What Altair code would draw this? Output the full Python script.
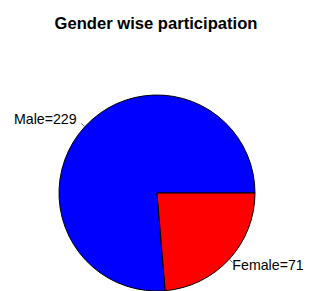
import math
import altair as alt
import pandas as pd

categories = ["Male", "Female"]
counts = [229, 71]
colors = ["#0000FF", "#FF0000"]

df = pd.DataFrame({"gender": categories, "count": counts})
df["label"] = df["gender"] + "=" + df["count"].astype(str)
# R draws counter-clockwise from 3 o'clock; Vega draws clockwise -> reverse order
df["order"] = list(range(len(df)))[::-1]

W, H = 296, 243
R = 98.0
CX, CY = 149, 145

theta_scale = alt.Scale(range=[math.pi / 2, math.pi / 2 + 2 * math.pi])
xs = alt.Scale(domain=[-CX / R, (W - CX) / R], nice=False, zero=False)
ys = alt.Scale(domain=[-(H - CY) / R, CY / R], nice=False, zero=False)

base = (
    alt.Chart(df)
    .transform_joinaggregate(total="sum(count)")
    .transform_window(cum="sum(count)", sort=[alt.SortField("order")], frame=[None, 0])
    .transform_calculate(ang="PI/2 + 2*PI*(datum.cum - datum.count/2)/datum.total")
    .transform_calculate(
        sx="sin(datum.ang)",
        cy="cos(datum.ang)",
    )
    .transform_calculate(
        x1="datum.sx", y1="datum.cy",
        x2="1.05*datum.sx", y2="1.05*datum.cy",
        xt="1.1*datum.sx", yt="1.1*datum.cy",
    )
)

arc = alt.Chart(df).mark_arc(outerRadius=R, stroke="black", strokeWidth=1).encode(
    theta=alt.Theta("count:Q", stack=True, scale=theta_scale),
    order=alt.Order("order:Q"),
    color=alt.Color("gender:N", scale=alt.Scale(domain=categories, range=colors), legend=None),
    x=alt.value(CX),
    y=alt.value(CY),
)

ticks = base.mark_rule(color="#444444", strokeWidth=0.8).encode(
    x=alt.X("x1:Q", scale=xs, axis=None),
    y=alt.Y("y1:Q", scale=ys, axis=None),
    x2="x2:Q",
    y2="y2:Q",
)

txt_kw = dict(baseline="middle", fontSize=14.2, font="Liberation Sans", color="black")
left_labels = base.transform_filter("datum.sx < 0").mark_text(align="right", dx=-1, **txt_kw).encode(
    x=alt.X("xt:Q", scale=xs, axis=None),
    y=alt.Y("yt:Q", scale=ys, axis=None),
    text="label:N",
)
right_labels = base.transform_filter("datum.sx >= 0").mark_text(align="left", dx=-4, **txt_kw).encode(
    x=alt.X("xt:Q", scale=xs, axis=None),
    y=alt.Y("yt:Q", scale=ys, axis=None),
    text="label:N",
)

chart = (
    alt.layer(arc, ticks, left_labels, right_labels)
    .properties(
        width=W,
        height=H,
        title=alt.TitleParams(
            "Gender wise participation",
            fontSize=16.6,
            font="Liberation Sans",
            fontWeight="bold",
            anchor="middle",
            baseline="alphabetic",
            offset=2,
            color="black",
        ),
        autosize=alt.AutoSizeParams(type="none"),
        padding={"left": 0, "top": 40, "right": 0, "bottom": 0},
    )
    .configure_view(stroke=None)
)

chart.save("out.html", embed_options={"renderer": "svg", "actions": False})
